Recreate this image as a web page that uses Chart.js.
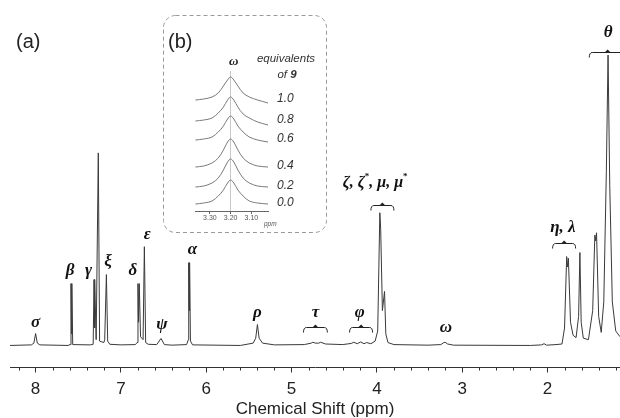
<!DOCTYPE html>
<html>
<head>
<meta charset="utf-8">
<script src="https://cdn.jsdelivr.net/npm/chart.js@4"></script>
<style>
  body { margin: 0; background: #fff; }
  #wrap { position: relative; width: 620px; height: 418px; }
  #main { position: absolute; left: 0; top: 0; }
  #inset { position: absolute; left: 165px; top: 50px; }
</style>
</head>
<body>
<div id="wrap">
  <canvas id="main" width="620" height="418"></canvas>
  <canvas id="inset" width="158" height="180"></canvas>
</div>
<script>
// 1H NMR spectrum (a): chemical shift (ppm) and intensity (tallest peak = 100)
const shiftPpm = [
  8.30, 8.05, 8.02, 8.00, 7.98, 7.95,
  7.62, 7.595, 7.585, 7.58, 7.575, 7.565,
  7.36, 7.325, 7.315, 7.31, 7.305, 7.29, 7.265, 7.25,
  7.20, 7.19, 7.17, 7.155, 7.13, 7.00,
  6.83, 6.81, 6.80, 6.793, 6.785, 6.77, 6.74, 6.725, 6.71, 6.68,
  6.58, 6.53, 6.49, 6.40,
  6.23, 6.21, 6.205, 6.20, 6.195, 6.185, 6.16,
  5.60, 5.45, 5.42, 5.40, 5.38, 5.34, 5.20,
  4.85, 4.77, 4.75, 4.72, 4.68, 4.66, 4.60, 4.40,
  4.30, 4.27, 4.23, 4.19, 4.15, 4.12, 4.07,
  4.02, 3.99, 3.965, 3.955, 3.935, 3.91, 3.895, 3.87, 3.80,
  3.40, 3.25, 3.22, 3.20, 3.17, 3.10,
  2.20, 2.07, 2.04, 2.01, 1.90,
  1.83, 1.80, 1.775, 1.765, 1.755, 1.73, 1.70, 1.665,
  1.635, 1.62, 1.605, 1.58, 1.52,
  1.47, 1.445, 1.435, 1.425, 1.40, 1.37,
  1.34, 1.31, 1.29, 1.27, 1.24, 1.20, 1.15
];
const intensity = [
  0, 0.2, 0.8, 4.1, 0.8, 0.2,
  0, 0.3, 21.3, 4, 21.3, 0.3,
  0.2, 0.4, 22.7, 6, 22.7, 2, 66.3, 1.5,
  1, 2, 24.4, 1.5, 0.4, 0.2,
  0.3, 1, 21.3, 8, 21.3, 3, 2, 34, 1, 0.4,
  0.3, 2.4, 0.3, 0.1,
  0.3, 2, 28.5, 12, 28.5, 1.5, 0.2,
  0, 0.8, 2.5, 7.2, 2.5, 0.8, 0.2,
  0.3, 0.8, 1.1, 0.8, 0.8, 1.1, 0.5, 0.3,
  0.7, 1.1, 0.6, 1.2, 0.6, 1.0, 0.6,
  1.5, 5, 45.7, 40, 12, 18.6, 4, 1, 0.3,
  0.1, 0.3, 0.9, 1.1, 0.5, 0.1,
  0, 0.2, 0.6, 0.1, 0.3,
  0.5, 6, 30.6, 27, 30, 8, 3.5, 2.7,
  10, 32, 8, 2.5, 2,
  12, 38, 36, 38.8, 10, 4.5,
  15, 60, 100, 55, 15, 5, 3
];

// peak assignments
const peakLabels = ['σ', 'β', 'γ', 'ξ', 'δ', 'ε', 'ψ', 'α', 'ρ', 'τ', 'φ', 'ω', 'η, λ', 'θ'];
const labelPpm   = [8.00, 7.595, 7.38, 7.15, 6.86, 6.69, 6.52, 6.16, 5.40, 4.72, 4.20, 3.19, 1.82, 1.29];
const labelLevel = [7.9, 25.8, 25.8, 28.9, 25.8, 38.1, 7.2, 33, 11.3, 11.3, 11.3, 6.2, 40.5, 107.6];
const groupLabel = [['ζ, ζ', '*', ', μ, μ', '*'], 4.02, 56];

// brace ranges for multiplets
const braceFrom  = [4.86, 4.32, 4.07, 1.94, 1.51];
const braceTo    = [4.58, 4.05, 3.80, 1.67, 1.08];
const braceLevel = [6.2, 6.2, 48.5, 35.4, 101];

// inset (b): omega signal vs equivalents of 9
const insetShift = [3.37, 3.33, 3.29, 3.26, 3.235, 3.215, 3.20, 3.185, 3.165, 3.14, 3.11, 3.07, 3.02];
const equivalents = ['1.0', '0.8', '0.6', '0.4', '0.2', '0.0'];
const insetTraces = [
  [111, 112, 114, 118, 125, 131, 134, 131, 125, 118, 114, 111, 108],
  [90, 91, 93, 98, 104, 111, 114, 111, 104, 97, 93, 89, 86],
  [71, 72, 74, 79, 85, 92, 95, 92, 85, 79, 74, 71, 69],
  [44, 45, 48, 53, 61, 69, 72, 69, 61, 53, 48, 45, 44],
  [24, 25, 28, 33, 41, 49, 52, 49, 41, 33, 28, 25, 24],
  [7, 8, 10, 15, 21, 28, 31, 28, 21, 15, 10, 8, 7]
];

const SANS = '"Liberation Sans", Arial, sans-serif';
const SERIF = '"Liberation Serif", "Times New Roman", serif';

const annotate = {
  id: 'annotate',
  afterDraw(chart) {
    const ctx = chart.ctx, xs = chart.scales.x, ys = chart.scales.y;
    ctx.save();

    // minor ticks every 0.2 ppm
    ctx.strokeStyle = '#333';
    ctx.lineWidth = 1;
    const yAxis = chart.chartArea.bottom;
    for (let v = 1.2; v < 8.3; v += 0.2) {
      if (Math.abs(v - Math.round(v)) < 0.01) continue;
      const px = Math.round(xs.getPixelForValue(v)) + 0.5;
      ctx.beginPath();
      ctx.moveTo(px, yAxis);
      ctx.lineTo(px, yAxis + 3);
      ctx.stroke();
    }

    // inset frame
    ctx.strokeStyle = '#9a9a9a';
    ctx.setLineDash([4, 3]);
    ctx.beginPath();
    ctx.roundRect(163.5, 15.5, 163, 217, 12);
    ctx.stroke();
    ctx.setLineDash([]);

    // panel letters
    ctx.fillStyle = '#222';
    ctx.font = '20px ' + SANS;
    ctx.textBaseline = 'middle';
    ctx.textAlign = 'left';
    ctx.fillText('(a)', 16, 42);
    ctx.fillText('(b)', 168, 42);

    // peak labels
    ctx.fillStyle = '#111';
    ctx.textAlign = 'center';
    ctx.font = 'bold italic 17px ' + SERIF;
    peakLabels.forEach((t, i) => {
      ctx.fillText(t, xs.getPixelForValue(labelPpm[i]), ys.getPixelForValue(labelLevel[i]));
    });

    // grouped label with superscript stars
    const [parts, gp, gl] = groupLabel;
    const big = 'bold italic 16px ' + SERIF, small = 'bold 9px ' + SERIF;
    let w = 0;
    parts.forEach(p => { ctx.font = p === '*' ? small : big; w += ctx.measureText(p).width; });
    let gx = xs.getPixelForValue(gp) - w / 2;
    const gy = ys.getPixelForValue(gl);
    ctx.textAlign = 'left';
    parts.forEach(p => {
      ctx.font = p === '*' ? small : big;
      ctx.fillText(p, gx, p === '*' ? gy - 6 : gy);
      gx += ctx.measureText(p).width;
    });

    // braces
    ctx.strokeStyle = '#222';
    ctx.fillStyle = '#222';
    braceFrom.forEach((f, i) => {
      const x1 = xs.getPixelForValue(f), x2 = xs.getPixelForValue(braceTo[i]);
      const y = Math.round(ys.getPixelForValue(braceLevel[i])) + 0.5;
      const xc = (x1 + x2) / 2;
      ctx.beginPath();
      ctx.moveTo(x1, y + 5);
      ctx.quadraticCurveTo(x1, y, x1 + 3, y);
      ctx.lineTo(x2 - 3, y);
      ctx.quadraticCurveTo(x2, y, x2, y + 5);
      ctx.stroke();
      ctx.beginPath();
      ctx.moveTo(xc - 3, y);
      ctx.lineTo(xc, y - 3);
      ctx.lineTo(xc + 3, y);
      ctx.closePath();
      ctx.fill();
    });
    ctx.restore();
  }
};

new Chart(document.getElementById('main'), {
  type: 'line',
  data: {
    datasets: [{
      data: shiftPpm.map((s, i) => ({ x: s, y: intensity[i] })),
      borderColor: '#3a3a3a',
      borderWidth: 1,
      pointRadius: 0,
      tension: 0
    }]
  },
  options: {
    responsive: false,
    animation: false,
    events: [],
    layout: { padding: { left: 10, right: 0, top: 10, bottom: 0 } },
    plugins: { legend: { display: false }, tooltip: { enabled: false } },
    scales: {
      x: {
        type: 'linear',
        reverse: true,
        min: 1.15,
        max: 8.3,
        grid: { drawOnChartArea: false, drawTicks: true, tickLength: 5, color: '#333' },
        border: { display: true, color: '#333', width: 1 },
        ticks: {
          stepSize: 1,
          includeBounds: false,
          padding: 8,
          color: '#222',
          font: { family: SANS, size: 17, lineHeight: 1 },
          callback: v => Math.round(v)
        },
        title: {
          display: true,
          text: 'Chemical Shift (ppm)',
          color: '#222',
          font: { family: SANS, size: 17, lineHeight: 0.41 },
          padding: { top: 0, bottom: 5.5 }
        }
      },
      y: { display: false, min: -7.6, max: 115.5 }
    }
  },
  plugins: [annotate]
});

const insetText = {
  id: 'insetText',
  afterDraw(chart) {
    const ctx = chart.ctx, xs = chart.scales.x, ys = chart.scales.y;
    const area = chart.chartArea;
    ctx.save();
    ctx.fillStyle = '#333';
    ctx.textBaseline = 'middle';
    ctx.textAlign = 'left';
    ctx.font = 'italic 12px ' + SANS;
    equivalents.forEach((t, i) => {
      ctx.fillText(t, area.right + 9, ys.getPixelForValue(insetTraces[i][0] + 1));
    });
    ctx.textAlign = 'center';
    ctx.font = 'bold italic 13px ' + SERIF;
    ctx.fillStyle = '#222';
    ctx.fillText('ω', xs.getPixelForValue(3.185), 12);
    ctx.fillStyle = '#333';
    ctx.font = 'italic 11.5px ' + SANS;
    ctx.fillText('equivalents', 121, 9);
    const a = 'of ', b = '9';
    const wa = ctx.measureText(a).width;
    ctx.font = 'bold italic 11.5px ' + SANS;
    const wb = ctx.measureText(b).width;
    ctx.textAlign = 'left';
    ctx.font = 'italic 11.5px ' + SANS;
    ctx.fillText(a, 122 - (wa + wb) / 2, 25);
    ctx.font = 'bold italic 11.5px ' + SANS;
    ctx.fillText(b, 122 - (wa + wb) / 2 + wa, 25);
    ctx.font = 'italic 6.5px ' + SANS;
    ctx.fillStyle = '#555';
    ctx.fillText('ppm', area.right - 4, area.bottom + 13);
    ctx.restore();
  }
};

new Chart(document.getElementById('inset'), {
  type: 'line',
  data: {
    datasets: insetTraces.map(tr => ({
      data: insetShift.map((s, i) => ({ x: s, y: tr[i] })),
      borderColor: '#7a7a7a',
      borderWidth: 1,
      pointRadius: 0,
      tension: 0.35
    }))
  },
  options: {
    responsive: false,
    animation: false,
    events: [],
    layout: { padding: { left: 30, right: 55, top: 21, bottom: 7 } },
    plugins: { legend: { display: false }, tooltip: { enabled: false } },
    scales: {
      x: {
        type: 'linear',
        reverse: true,
        min: 3.02,
        max: 3.372,
        grid: {
          drawOnChartArea: true,
          drawTicks: true,
          tickLength: 3,
          tickColor: '#666',
          color: ctx => (ctx.tick && Math.abs(ctx.tick.value - 3.2) < 1e-6) ? '#c8c8c8' : 'rgba(0,0,0,0)'
        },
        border: { display: true, color: '#666', width: 1 },
        ticks: {
          stepSize: 0.1,
          includeBounds: false,
          autoSkip: false,
          maxRotation: 0,
          padding: 1,
          color: '#555',
          font: { family: SANS, size: 7, lineHeight: 1 },
          callback: v => v.toFixed(2)
        }
      },
      y: { display: false, min: 0, max: 140 }
    }
  },
  plugins: [insetText]
});
</script>
</body>
</html>
